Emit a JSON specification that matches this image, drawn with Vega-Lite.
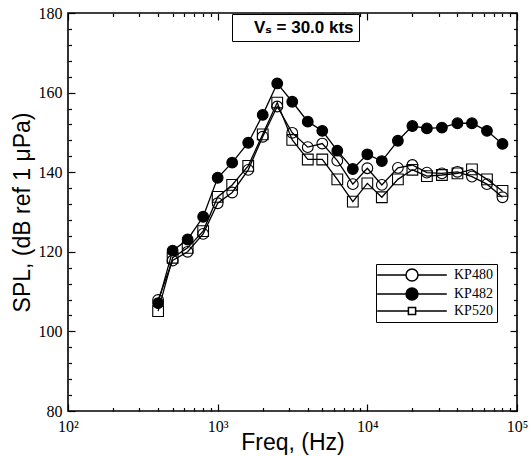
{
  "$schema": "https://vega.github.io/schema/vega-lite/v6.json",
  "width": 449,
  "height": 398,
  "autosize": "none",
  "padding": {"left": 68, "top": 13, "right": 14, "bottom": 45},
  "background": "white",
  "config": {
    "view": {"stroke": "black", "strokeWidth": 1.6},
    "axis": {"grid": false, "domain": false}
  },
  "datasets": {
    "spl": [
      {"freq": 400, "spl": 107.9, "series": "KP480"},
      {"freq": 500, "spl": 117.8, "series": "KP480"},
      {"freq": 630, "spl": 120.0, "series": "KP480"},
      {"freq": 800, "spl": 124.5, "series": "KP480"},
      {"freq": 1000, "spl": 132.2, "series": "KP480"},
      {"freq": 1250, "spl": 134.9, "series": "KP480"},
      {"freq": 1600, "spl": 140.6, "series": "KP480"},
      {"freq": 2000, "spl": 148.9, "series": "KP480"},
      {"freq": 2500, "spl": 156.5, "series": "KP480"},
      {"freq": 3150, "spl": 149.9, "series": "KP480"},
      {"freq": 4000, "spl": 146.3, "series": "KP480"},
      {"freq": 5000, "spl": 147.2, "series": "KP480"},
      {"freq": 6300, "spl": 142.9, "series": "KP480"},
      {"freq": 8000, "spl": 137.0, "series": "KP480"},
      {"freq": 10000, "spl": 141.0, "series": "KP480"},
      {"freq": 12500, "spl": 136.8, "series": "KP480"},
      {"freq": 16000, "spl": 141.1, "series": "KP480"},
      {"freq": 20000, "spl": 141.8, "series": "KP480"},
      {"freq": 25000, "spl": 139.9, "series": "KP480"},
      {"freq": 31500, "spl": 139.7, "series": "KP480"},
      {"freq": 40000, "spl": 140.1, "series": "KP480"},
      {"freq": 50000, "spl": 138.9, "series": "KP480"},
      {"freq": 63000, "spl": 137.0, "series": "KP480"},
      {"freq": 80000, "spl": 133.7, "series": "KP480"},
      {"freq": 400, "spl": 107.1, "series": "KP482"},
      {"freq": 500, "spl": 120.3, "series": "KP482"},
      {"freq": 630, "spl": 123.1, "series": "KP482"},
      {"freq": 800, "spl": 128.8, "series": "KP482"},
      {"freq": 1000, "spl": 138.6, "series": "KP482"},
      {"freq": 1250, "spl": 142.4, "series": "KP482"},
      {"freq": 1600, "spl": 147.4, "series": "KP482"},
      {"freq": 2000, "spl": 154.4, "series": "KP482"},
      {"freq": 2500, "spl": 162.3, "series": "KP482"},
      {"freq": 3150, "spl": 157.7, "series": "KP482"},
      {"freq": 4000, "spl": 152.7, "series": "KP482"},
      {"freq": 5000, "spl": 150.4, "series": "KP482"},
      {"freq": 6300, "spl": 145.4, "series": "KP482"},
      {"freq": 8000, "spl": 140.8, "series": "KP482"},
      {"freq": 10000, "spl": 144.5, "series": "KP482"},
      {"freq": 12500, "spl": 142.8, "series": "KP482"},
      {"freq": 16000, "spl": 147.9, "series": "KP482"},
      {"freq": 20000, "spl": 151.6, "series": "KP482"},
      {"freq": 25000, "spl": 151.0, "series": "KP482"},
      {"freq": 31500, "spl": 151.2, "series": "KP482"},
      {"freq": 40000, "spl": 152.3, "series": "KP482"},
      {"freq": 50000, "spl": 152.3, "series": "KP482"},
      {"freq": 63000, "spl": 150.4, "series": "KP482"},
      {"freq": 80000, "spl": 147.1, "series": "KP482"},
      {"freq": 400, "spl": 105.1, "series": "KP520"},
      {"freq": 500, "spl": 118.5, "series": "KP520"},
      {"freq": 630, "spl": 121.0, "series": "KP520"},
      {"freq": 800, "spl": 125.2, "series": "KP520"},
      {"freq": 1000, "spl": 133.8, "series": "KP520"},
      {"freq": 1250, "spl": 136.8, "series": "KP520"},
      {"freq": 1600, "spl": 141.6, "series": "KP520"},
      {"freq": 2000, "spl": 149.5, "series": "KP520"},
      {"freq": 2500, "spl": 157.5, "series": "KP520"},
      {"freq": 3150, "spl": 148.1, "series": "KP520"},
      {"freq": 4000, "spl": 143.2, "series": "KP520"},
      {"freq": 5000, "spl": 143.2, "series": "KP520"},
      {"freq": 6300, "spl": 138.2, "series": "KP520"},
      {"freq": 8000, "spl": 132.6, "series": "KP520"},
      {"freq": 10000, "spl": 137.2, "series": "KP520"},
      {"freq": 12500, "spl": 133.7, "series": "KP520"},
      {"freq": 16000, "spl": 138.2, "series": "KP520"},
      {"freq": 20000, "spl": 140.6, "series": "KP520"},
      {"freq": 25000, "spl": 139.0, "series": "KP520"},
      {"freq": 31500, "spl": 139.3, "series": "KP520"},
      {"freq": 40000, "spl": 139.7, "series": "KP520"},
      {"freq": 50000, "spl": 140.7, "series": "KP520"},
      {"freq": 63000, "spl": 138.2, "series": "KP520"},
      {"freq": 80000, "spl": 135.3, "series": "KP520"}
    ],
    "note": [{"label": "Vₛ = 30.0 kts"}]
  },
  "data": {"name": "spl"},
  "layer": [
    {
      "mark": {"type": "line", "color": "black", "strokeWidth": 1.3},
      "encoding": {
        "x": {
          "field": "freq", "type": "quantitative",
          "scale": {"type": "log", "domain": [100, 100000], "nice": false},
          "axis": {
            "orient": "bottom", "ticks": true, "tickColor": "black", "tickWidth": 1.2, "tickOpacity": 1,
            "values": [100, 200, 300, 400, 500, 600, 700, 800, 900, 1000, 2000, 3000, 4000, 5000, 6000, 7000, 8000, 9000, 10000, 20000, 30000, 40000, 50000, 60000, 70000, 80000, 90000, 100000],
            "labelExpr": "datum.value==100?'10²':datum.value==1000?'10³':datum.value==10000?'10⁴':datum.value==100000?'10⁵':''",
            "tickSize": {"condition": {"test": "datum.value==100||datum.value==1000||datum.value==10000||datum.value==100000", "value": -7}, "value": -3.5},
            "labelFont": "Liberation Serif", "labelFontSize": 16, "labelColor": "black",
            "labelFlush": false, "labelOverlap": false, "labelBound": false, "labelPadding": 14,
            "title": "Freq, (Hz)", "titleFont": "Liberation Sans", "titleFontSize": 23,
            "titleFontWeight": "normal", "titleColor": "black",
            "titleBaseline": "alphabetic", "titleY": 38
          }
        },
        "y": {
          "field": "spl", "type": "quantitative",
          "scale": {"domain": [80, 180], "nice": false, "zero": false},
          "axis": {
            "orient": "left", "ticks": true, "tickColor": "black", "tickWidth": 1.2, "tickOpacity": 1,
            "values": [80, 84, 88, 92, 96, 100, 104, 108, 112, 116, 120, 124, 128, 132, 136, 140, 144, 148, 152, 156, 160, 164, 168, 172, 176, 180],
            "labelExpr": "datum.value%20==0?datum.label:''",
            "tickSize": {"condition": {"test": "datum.value%20==0", "value": -7}, "value": -3.5},
            "labelFont": "Liberation Serif", "labelFontSize": 16, "labelColor": "black",
            "labelFlush": false, "labelOverlap": false, "labelBound": false, "labelPadding": 13,
            "title": "SPL, (dB ref 1 μPa)", "titleFont": "Liberation Sans", "titleFontSize": 23,
            "titleFontWeight": "normal", "titleColor": "black",
            "titleBaseline": "alphabetic", "titleX": -39
          }
        },
        "detail": {"field": "series"}
      }
    },
    {
      "mark": {"type": "point", "filled": true, "stroke": "black", "strokeWidth": 1.1, "opacity": 1},
      "encoding": {
        "x": {
          "field": "freq", "type": "quantitative",
          "axis": {
            "orient": "top", "ticks": true, "tickColor": "black", "tickWidth": 1.2, "tickOpacity": 1,
            "values": [100, 200, 300, 400, 500, 600, 700, 800, 900, 1000, 2000, 3000, 4000, 5000, 6000, 7000, 8000, 9000, 10000, 20000, 30000, 40000, 50000, 60000, 70000, 80000, 90000, 100000],
            "labels": false, "title": null,
            "tickSize": {"condition": {"test": "datum.value==100||datum.value==1000||datum.value==10000||datum.value==100000", "value": -7}, "value": -3.5}
          }
        },
        "y": {
          "field": "spl", "type": "quantitative",
          "axis": {
            "orient": "right", "ticks": true, "tickColor": "black", "tickWidth": 1.2, "tickOpacity": 1,
            "values": [80, 84, 88, 92, 96, 100, 104, 108, 112, 116, 120, 124, 128, 132, 136, 140, 144, 148, 152, 156, 160, 164, 168, 172, 176, 180],
            "labels": false, "title": null,
            "tickSize": {"condition": {"test": "datum.value%20==0", "value": -7}, "value": -3.5}
          }
        },
        "shape": {"field": "series", "type": "nominal", "scale": {"domain": ["KP480", "KP482", "KP520"], "range": ["circle", "circle", "square"]}, "legend": null},
        "fill": {"field": "series", "type": "nominal", "scale": {"domain": ["KP480", "KP482", "KP520"], "range": ["transparent", "black", "transparent"]}, "legend": null},
        "size": {"field": "series", "type": "nominal", "scale": {"domain": ["KP480", "KP482", "KP520"], "range": [115, 115, 60]}, "legend": null}
      }
    },
    {
      "mark": {"type": "point", "filled": true, "stroke": "black", "strokeWidth": 1.1, "size": 0, "opacity": 1},
      "encoding": {
        "shape": {
          "field": "series", "type": "nominal",
          "scale": {"domain": ["KP480", "KP482", "KP520"], "range": [
            "M-5.8,0H-1M1,0H5.8M-1,0A1,1 0 1,0 1,0A1,1 0 1,0 -1,0Z",
            "M-5.8,0H5.8M-1,0A1,1 0 1,0 1,0A1,1 0 1,0 -1,0Z",
            "M-5.8,0H-0.6M0.6,0H5.8M-0.6,-0.6H0.6V0.6H-0.6Z"
          ]},
          "legend": {
            "title": null, "orient": "none", "legendX": 308, "legendY": 251,
            "strokeColor": "black", "fillColor": "white", "padding": 4,
            "symbolSize": 144, "symbolOffset": 25, "symbolOpacity": 1,
            "labelFont": "Liberation Serif", "labelFontSize": 14, "labelColor": "black", "labelOffset": 35,
            "rowPadding": 1,
            "encode": {
              "symbols": {"update": {"stroke": {"value": "black"}, "strokeWidth": {"value": 1.1}, "opacity": {"value": 1}}}
            }
          }
        },
        "fill": {
          "field": "series", "type": "nominal",
          "scale": {"domain": ["KP480", "KP482", "KP520"], "range": ["white", "black", "white"]}
        }
      }
    },
    {
      "data": {"name": "note"},
      "mark": {"type": "point", "size": 0, "filled": true},
      "encoding": {
        "color": {
          "field": "label", "type": "nominal",
          "scale": {"range": ["black"]},
          "legend": {
            "title": null, "orient": "none", "legendX": 164, "legendY": 1,
            "strokeColor": "black", "fillColor": "white", "padding": 5,
            "symbolSize": 0, "symbolOpacity": 0, "labelOffset": 0,
            "labelFont": "Liberation Sans, DejaVu Sans", "labelFontSize": 17, "labelFontWeight": "bold",
            "labelColor": "black", "labelLimit": 300
          }
        }
      }
    }
  ],
  "resolve": {
    "scale": {"shape": "independent", "fill": "independent"},
    "axis": {"x": "independent", "y": "independent"}
  }
}
